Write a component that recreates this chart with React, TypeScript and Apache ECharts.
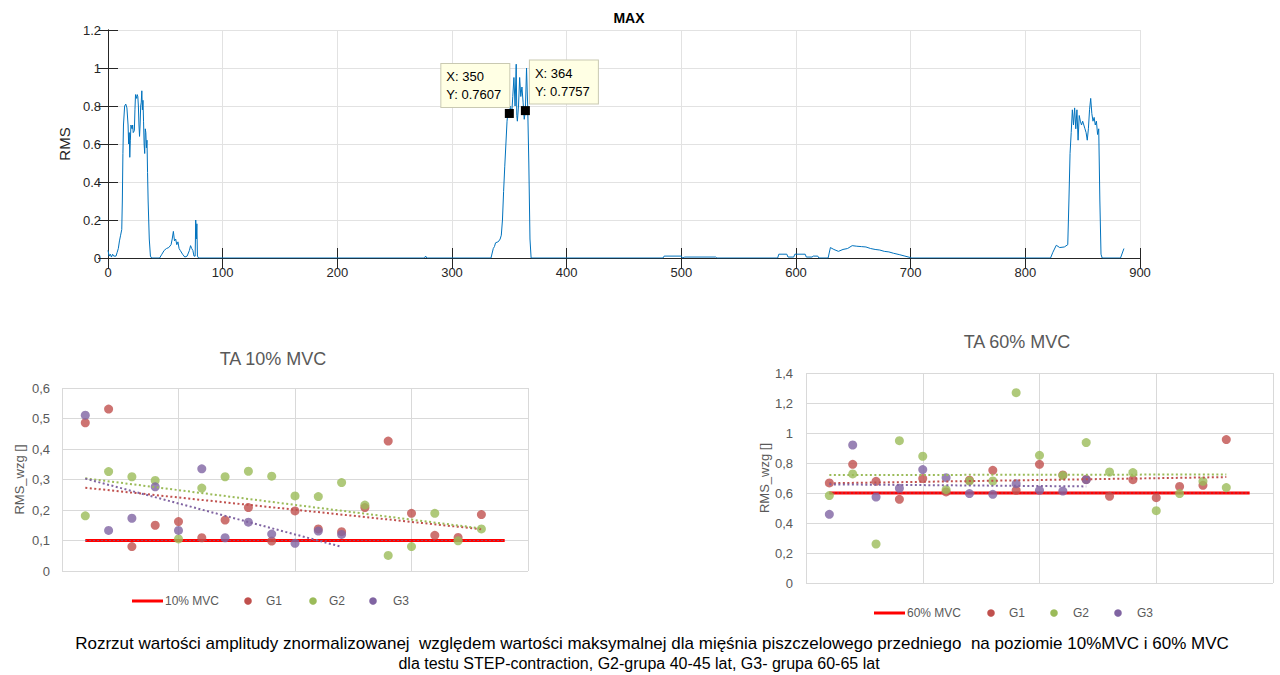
import { useEffect, useRef } from "react";
import * as echarts from "echarts";

// ---------- TOP CHART: MAX (RMS vs sample) ----------
const maxSignal: [number, number][] = [
  [0, 0.04], [1, 0.01], [2, 0.02], [3, 0.005], [4, 0.02], [5, 0.01], [7, 0.01], [8, 0.03], [9, 0.05],
  [10, 0.09], [11, 0.12], [12, 0.15], [12.5, 0.3], [13, 0.55], [13.5, 0.7], [14.5, 0.8], [15.5, 0.81],
  [16.5, 0.79], [17.5, 0.7], [18, 0.6], [18.5, 0.66], [19, 0.53], [19.5, 0.62], [20, 0.7], [21, 0.68],
  [21.5, 0.7], [22, 0.66], [23, 0.67], [23.5, 0.78], [24, 0.86], [25, 0.84], [25.5, 0.86], [26, 0.85],
  [26.5, 0.8], [27, 0.7], [27.5, 0.64], [28, 0.7], [28.5, 0.8], [29, 0.82], [29.5, 0.88], [30, 0.78],
  [30.5, 0.83], [31, 0.72], [31.5, 0.6], [32, 0.55], [32.5, 0.68], [33, 0.66], [33.5, 0.58], [34, 0.62],
  [34.5, 0.45], [35, 0.3], [36, 0.1], [37, 0.01], [38, 0],
  [45, 0], [47, 0.02], [49, 0.04], [51, 0.05], [53, 0.055], [55, 0.07], [56, 0.1], [57, 0.14], [58, 0.09],
  [59, 0.1], [60, 0.07], [61, 0.085], [62, 0.05], [63, 0.04], [65, 0.02], [67, 0.005], [69, 0.01],
  [71, 0.04], [72, 0.065], [73, 0.05], [74, 0.04], [75, 0.01], [76, 0.01], [76.5, 0.2], [77, 0.1],
  [77.5, 0.18], [78, 0.01], [79, 0],
  [276, 0], [277, 0.01], [278, 0],
  [334, 0], [336, 0.05], [337, 0.06], [338, 0.08], [340, 0.085], [341, 0.09], [342, 0.1], [343, 0.12],
  [344, 0.2], [345, 0.35], [346, 0.48], [347, 0.6], [348, 0.72], [349, 0.78], [350, 0.7607], [351, 0.8],
  [352, 0.75], [353, 0.85], [354, 0.95], [355, 0.8], [356, 1.02], [356.5, 0.75], [357, 0.72], [358, 0.8],
  [359, 0.95], [360, 0.85], [361, 0.9], [362, 0.82], [363, 0.73], [364, 0.7757], [365, 1.0], [366, 0.8],
  [367, 0.5], [368, 0.1], [369, 0],
  [484, 0], [485, 0.01], [500, 0.01], [501, 0], [503, 0.005], [530, 0.005], [531, 0],
  [584, 0], [585, 0.02], [592, 0.02], [593, 0.005], [598, 0.005], [599, 0.02], [608, 0.02], [609, 0.005],
  [614, 0.005], [615, 0.01], [619, 0.01], [620, 0], [628, 0], [630, 0.055], [633, 0.045], [637, 0.035],
  [641, 0.045], [645, 0.05], [649, 0.065], [653, 0.062], [657, 0.06], [661, 0.058], [665, 0.05],
  [669, 0.045], [673, 0.042], [677, 0.035], [681, 0.032], [685, 0.025], [690, 0.018], [695, 0.01],
  [700, 0.002], [701, 0],
  [822, 0], [824, 0.03], [827, 0.067], [830, 0.055], [834, 0.058], [837, 0.07], [838, 0.3], [839, 0.55],
  [840, 0.66], [841, 0.78], [842, 0.7], [843, 0.79], [844, 0.68], [845, 0.78], [846, 0.62], [847, 0.75],
  [848, 0.72], [849, 0.7], [850, 0.72], [851, 0.7], [852, 0.68], [853, 0.66], [854, 0.62], [855, 0.68],
  [856, 0.78], [857, 0.84], [858, 0.76], [859, 0.72], [860, 0.74], [861, 0.7], [862, 0.72], [863, 0.65],
  [864, 0.68], [865, 0.3], [866, 0.02], [867, 0],
  [883, 0], [886, 0.05],
];
const dataTips: [number, number][] = [
  [350, 0.7607],
  [364, 0.7757],
];

// ---------- BOTTOM CHARTS: scatter per trial ----------
const trials = [1, 2, 3, 4, 5, 6, 7, 8, 9, 10, 11, 12, 13, 14, 15, 16, 17, 18, 19];
const mvc10Level = 0.1;
const mvc60Level = 0.6;

const g1at10 = [0.486, 0.531, 0.08, 0.15, 0.162, 0.109, 0.167, 0.208, 0.098, 0.197, 0.138, 0.129, 0.208, 0.426, 0.189, 0.117, 0.11, 0.185];
const g2at10 = [0.181, 0.326, 0.309, 0.297, 0.105, 0.272, 0.309, 0.327, 0.311, 0.246, 0.244, 0.29, 0.216, 0.051, 0.08, 0.189, 0.099, 0.138];
const g3at10 = [0.511, 0.133, 0.173, 0.276, 0.133, 0.335, 0.109, 0.16, 0.121, 0.091, 0.131, 0.12];

const g1at60 = [0.667, 0.791, 0.678, 0.558, 0.696, 0.607, 0.685, 0.751, 0.618, 0.791, 0.72, 0.69, 0.578, 0.689, 0.569, 0.644, 0.651, 0.956];
const g2at60 = [0.583, 0.727, 0.26, 0.949, 0.845, 0.622, 0.68, 0.68, 1.269, 0.851, 0.716, 0.936, 0.74, 0.736, 0.482, 0.596, 0.678, 0.636];
const g3at60 = [0.458, 0.92, 0.573, 0.631, 0.756, 0.702, 0.596, 0.591, 0.662, 0.618, 0.613, 0.689];

const captionLines = [
  "Rozrzut wartości amplitudy znormalizowanej  względem wartości maksymalnej dla mięśnia piszczelowego przedniego  na poziomie 10%MVC i 60% MVC",
  "dla testu STEP-contraction, G2-grupa 40-45 lat, G3- grupa 60-65 lat",
];

const C = { mvc: "#FF0000", g1: "#C0504D", g2: "#9BBB59", g3: "#8064A2", base: "#4F81BD", sig: "#0072BD" };
const FONT = "'Liberation Sans', Arial, sans-serif";

const points = (ys: number[]) => ys.map((y, i) => [trials[i], y]);
const levelLine = (level: number) => trials.map((t) => [t, level]);
function linearFit(ys: number[]): number[][] {
  const xs = trials.slice(0, ys.length);
  const n = ys.length;
  const mx = xs.reduce((a, b) => a + b, 0) / n;
  const my = ys.reduce((a, b) => a + b, 0) / n;
  let sxy = 0;
  let sxx = 0;
  xs.forEach((x, i) => {
    sxy += (x - mx) * (ys[i] - my);
    sxx += (x - mx) * (x - mx);
  });
  const b = sxy / sxx;
  const a = my - b * mx;
  return [
    [xs[0], a + b * xs[0]],
    [xs[n - 1], a + b * xs[n - 1]],
  ];
}
const commaFmt = (v: number) => (Math.round(v * 10) / 10).toString().replace(".", ",");

function bottomSeries(axis: number, label: string, level: number, g1: number[], g2: number[], g3: number[]) {
  const dotted = (color: string) => ({ color, width: 2, type: [2, 2.5] as any });
  return [
    { type: "line", name: label, xAxisIndex: axis, yAxisIndex: axis, data: levelLine(level), symbol: "none", lineStyle: { color: C.mvc, width: 3 }, z: 2 },
    { type: "line", name: label + " trend", xAxisIndex: axis, yAxisIndex: axis, data: levelLine(level), symbol: "none", lineStyle: { color: C.base, width: 1.2, type: [1.5, 2.5], opacity: 0.7 }, z: 3 },
    { type: "scatter", name: "G1", xAxisIndex: axis, yAxisIndex: axis, data: points(g1), symbolSize: 9, itemStyle: { color: C.g1 }, z: 4 },
    { type: "scatter", name: "G2", xAxisIndex: axis, yAxisIndex: axis, data: points(g2), symbolSize: 9, itemStyle: { color: C.g2 }, z: 4 },
    { type: "scatter", name: "G3", xAxisIndex: axis, yAxisIndex: axis, data: points(g3), symbolSize: 9, itemStyle: { color: C.g3 }, z: 4 },
    { type: "line", name: "G1 trend", xAxisIndex: axis, yAxisIndex: axis, data: linearFit(g1), symbol: "none", lineStyle: dotted(C.g1), z: 5 },
    { type: "line", name: "G2 trend", xAxisIndex: axis, yAxisIndex: axis, data: linearFit(g2), symbol: "none", lineStyle: dotted(C.g2), z: 5 },
    { type: "line", name: "G3 trend", xAxisIndex: axis, yAxisIndex: axis, data: linearFit(g3), symbol: "none", lineStyle: dotted(C.g3), z: 5 },
  ];
}

function legendGraphic(y: number, lineX: number, label: string, dots: number[], texts: number[]) {
  const txt = (x: number, t: string) => ({
    type: "text", x, y,
    style: { text: t, fill: "#595959", font: `12px ${FONT}`, align: "left", verticalAlign: "middle" },
  });
  const cols = [C.g1, C.g2, C.g3];
  const els: any[] = [
    { type: "line", shape: { x1: lineX, y1: y, x2: lineX + 31, y2: y }, style: { stroke: C.mvc, lineWidth: 3 } },
    txt(lineX + 33, label),
  ];
  dots.forEach((dx, i) => {
    els.push({ type: "circle", shape: { cx: dx, cy: y, r: 3.8 }, style: { fill: cols[i] } });
    els.push(txt(texts[i], "G" + (i + 1)));
  });
  return els;
}

function buildOption(): any {
  const topAxisLine = { show: true, lineStyle: { color: "#262626", width: 1 } };
  const topTick = { show: true, inside: true, length: 10, lineStyle: { color: "#262626" } };
  const topSplit = { show: true, lineStyle: { color: "#e2e2e2" } };
  const botSplit = { show: true, lineStyle: { color: "#d9d9d9" } };
  const botX = (gi: number) => ({
    gridIndex: gi, type: "value", min: 0, max: 20, interval: 5,
    axisLine: { show: false }, axisTick: { show: false }, axisLabel: { show: false }, splitLine: botSplit,
  });
  const botY = (gi: number, max: number, interval: number, nameGap: number, margin: number) => ({
    gridIndex: gi, type: "value", min: 0, max, interval,
    name: "RMS_wzg []", nameLocation: "middle", nameGap,
    nameTextStyle: { color: "#595959", fontSize: 13, fontFamily: FONT },
    axisLine: { show: false }, axisTick: { show: false },
    axisLabel: { formatter: commaFmt, color: "#595959", fontSize: 13, margin },
    splitLine: botSplit,
  });

  const tipLabel = (align: string, position: number[]) => ({
    position, align, verticalAlign: "bottom",
  });

  return {
    animation: false,
    backgroundColor: "#ffffff",
    textStyle: { fontFamily: FONT },
    title: [
      { text: "MAX", left: 624, top: 6, textAlign: "center", textStyle: { fontSize: 14, fontWeight: "bold", color: "#000", fontFamily: FONT } },
      { text: "TA 10% MVC", left: 268, top: 345, textAlign: "center", textStyle: { fontSize: 18, fontWeight: "normal", color: "#595959", fontFamily: FONT } },
      { text: "TA 60% MVC", left: 1012, top: 328, textAlign: "center", textStyle: { fontSize: 18, fontWeight: "normal", color: "#595959", fontFamily: FONT } },
    ],
    grid: [
      { left: 108, top: 30, width: 1032, height: 228 },
      { left: 62, top: 388, width: 466, height: 183 },
      { left: 806, top: 373, width: 467, height: 210 },
    ],
    xAxis: [
      {
        gridIndex: 0, type: "value", min: 0, max: 900, interval: 100, position: "bottom",
        axisLine: topAxisLine, axisTick: topTick, splitLine: topSplit,
        axisLabel: { color: "#262626", fontSize: 13, margin: 8 },
      },
      {
        gridIndex: 0, type: "value", min: 0, max: 900, interval: 100, position: "top",
        axisLine: topAxisLine, axisTick: topTick, splitLine: { show: false }, axisLabel: { show: false },
      },
      botX(1),
      botX(2),
    ],
    yAxis: [
      {
        gridIndex: 0, type: "value", min: 0, max: 1.2, interval: 0.2, position: "left",
        name: "RMS", nameLocation: "middle", nameGap: 30,
        nameTextStyle: { color: "#262626", fontSize: 15 },
        axisLine: topAxisLine, axisTick: topTick, splitLine: topSplit,
        axisLabel: { color: "#262626", fontSize: 13, margin: 7 },
      },
      {
        gridIndex: 0, type: "value", min: 0, max: 1.2, interval: 0.2, position: "right",
        axisLine: topAxisLine, axisTick: topTick, splitLine: { show: false }, axisLabel: { show: false },
      },
      botY(1, 0.6, 0.1, 36, 12),
      botY(2, 1.4, 0.2, 35, 13),
    ],
    series: [
      {
        type: "line", name: "RMS", xAxisIndex: 0, yAxisIndex: 0, data: maxSignal,
        symbol: "none", lineStyle: { color: C.sig, width: 1 }, z: 2,
        markPoint: {
          symbol: "rect", symbolSize: 9, itemStyle: { color: "#000" },
          label: {
            show: true, formatter: "{b}", color: "#000", fontSize: 13, lineHeight: 18,
            width: 58, align: "left",
            backgroundColor: "#FFFFE4", borderColor: "#C9C9B2", borderWidth: 1, padding: [4, 5, 3, 5],
          },
          data: dataTips.map((p, i) => ({
            name: `X: ${p[0]}\nY: ${p[1]}`,
            coord: p,
            label: i === 0 ? tipLabel("left", [-63.5, -2]) : tipLabel("left", [9, -2.5]),
          })),
        },
      },
      ...bottomSeries(2, "10% MVC", mvc10Level, g1at10, g2at10, g3at10),
      ...bottomSeries(3, "60% MVC", mvc60Level, g1at60, g2at60, g3at60),
    ],
    graphic: [
      ...legendGraphic(601, 132, "10% MVC", [248, 313, 373], [266, 329, 393]),
      ...legendGraphic(613, 874, "60% MVC", [991, 1054, 1118], [1009, 1073, 1137]),
      {
        type: "text", x: 652, y: 643,
        style: { text: captionLines[0], fill: "#000", font: `17px ${FONT}`, align: "center", verticalAlign: "middle" },
      },
      {
        type: "text", x: 639, y: 663,
        style: { text: captionLines[1], fill: "#000", font: `16px ${FONT}`, align: "center", verticalAlign: "middle" },
      },
    ],
  };
}

export default function App() {
  const ref = useRef<HTMLDivElement>(null);
  useEffect(() => {
    document.body.style.margin = "0";
    if (!ref.current) return;
    const chart = echarts.init(ref.current, undefined, { renderer: "svg" });
    chart.setOption(buildOption());
    return () => chart.dispose();
  }, []);
  return <div ref={ref} style={{ width: 1280, height: 675 }} />;
}
